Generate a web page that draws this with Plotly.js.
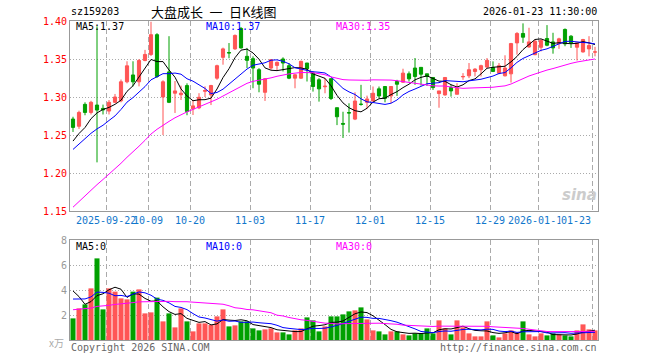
<!DOCTYPE html>
<html><head><meta charset="utf-8">
<script src="https://cdn.plot.ly/plotly-3.0.1.min.js"></script>
<style>html,body{margin:0;padding:0;background:#fff;}#chart{width:660px;height:360px;}</style>
</head><body><div id="chart"></div>
<script>
// Daily OHLC, 2025-09-12 .. 2026-01-23 (88 trading days)
const openP = [1.271,1.2615,1.2903,1.2797,1.2894,1.285,1.2815,1.293,1.295,1.320,
1.329,1.320,1.348,1.356,1.382,1.300,1.333,1.305,1.303,1.315,
1.2845,1.2857,1.3075,1.3027,1.3248,1.3522,1.3585,1.3633,1.3902,1.3535,
1.3504,1.3359,1.3062,1.3381,1.3416,1.35,1.3412,1.3248,1.3248,1.3447,
1.3314,1.3226,1.3135,1.324,1.2859,1.2652,1.2795,1.2709,1.2905,1.293,
1.2948,1.3107,1.3138,1.3014,1.3204,1.3195,1.3305,1.3381,1.339,1.3305,
1.3257,1.3045,1.3027,1.3124,1.3036,1.3265,1.3279,1.3336,1.3359,1.3394,
1.3389,1.3314,1.3279,1.3305,1.3712,1.3836,1.3659,1.3557,1.3654,1.377,
1.3725,1.3703,1.3889,1.38,1.3655,1.3593,1.3633,1.3591];
const highP = [1.274,1.282,1.293,1.295,1.393,1.290,1.296,1.304,1.323,1.347,
1.347,1.350,1.362,1.399,1.384,1.322,1.380,1.321,1.315,1.318,
1.296,1.305,1.314,1.316,1.3425,1.365,1.371,1.3823,1.392,1.3646,
1.3535,1.338,1.3248,1.35,1.3469,1.3522,1.3447,1.33,1.3478,1.3447,
1.3336,1.3248,1.3248,1.325,1.286,1.2806,1.2917,1.3062,1.316,1.3018,
1.3138,1.3138,1.3138,1.3138,1.3226,1.3372,1.3336,1.3513,1.339,1.3305,
1.3257,1.308,1.3257,1.316,1.3182,1.3314,1.3447,1.338,1.3425,1.3513,
1.3469,1.3447,1.3549,1.3712,1.3854,1.3969,1.3911,1.3756,1.376,1.3946,
1.3845,1.378,1.3902,1.3814,1.3712,1.3765,1.38,1.366];
const lowP = [1.254,1.258,1.276,1.277,1.214,1.277,1.277,1.292,1.293,1.318,
1.314,1.314,1.347,1.354,1.325,1.250,1.292,1.279,1.296,1.276,
1.2763,1.284,1.300,1.2894,1.3226,1.3425,1.351,1.362,1.3637,1.338,
1.3115,1.3062,1.2948,1.3359,1.3345,1.3336,1.3235,1.3115,1.3239,1.3204,
1.3071,1.2939,1.3049,1.296,1.263,1.2461,1.2532,1.2696,1.2886,1.2841,
1.2939,1.2983,1.293,1.2917,1.3014,1.3186,1.3204,1.316,1.315,1.3146,
1.3093,1.2859,1.3018,1.3005,1.3036,1.3226,1.3248,1.327,1.327,1.338,
1.3328,1.33,1.327,1.319,1.3557,1.3712,1.3646,1.355,1.36,1.3668,
1.357,1.3633,1.3668,1.3646,1.348,1.3584,1.3535,1.3535];
const closeP = [1.260,1.2797,1.2797,1.293,1.2828,1.283,1.293,1.300,1.320,1.341,
1.320,1.348,1.356,1.382,1.327,1.320,1.293,1.308,1.305,1.281,
1.2883,1.2996,1.3085,1.3151,1.3412,1.3633,1.358,1.381,1.3646,1.3482,
1.3381,1.3168,1.3239,1.3491,1.3456,1.3447,1.3248,1.3292,1.3469,1.3372,
1.3138,1.3107,1.3142,1.298,1.274,1.2643,1.279,1.2947,1.2903,1.2974,
1.3049,1.3014,1.2983,1.3138,1.3168,1.3314,1.3239,1.327,1.330,1.327,
1.3124,1.308,1.3257,1.308,1.3115,1.327,1.3359,1.3367,1.3412,1.3482,
1.3336,1.3412,1.3381,1.3703,1.3836,1.3787,1.3725,1.3734,1.3743,1.3681,
1.3646,1.3765,1.3699,1.3712,1.3712,1.3756,1.3677,1.3593];
// volume (万手)
const volume = [1.73,2.53,2.85,4.13,6.53,2.45,4.13,3.87,3.33,3.25,
3.87,4.05,2.13,2.21,3.39,1.49,2.13,1.01,2.53,1.49,
0.69,1.33,1.33,1.20,1.89,2.45,1.09,1.17,1.49,1.49,
0.93,0.77,0.85,0.93,0.61,0.61,0.45,0.77,0.93,1.81,
1.57,0.69,1.09,1.89,1.89,2.05,2.29,2.37,2.61,1.65,
0.77,0.69,0.45,0.69,0.69,0.45,0.37,0.53,0.53,0.93,
0.53,1.57,0.93,0.45,1.57,1.01,0.53,0.29,0.29,1.49,
0.37,0.21,0.53,0.77,0.61,1.49,0.45,0.29,0.53,0.37,
0.53,0.45,0.37,0.29,0.77,1.25,0.85,0.77];
// earlier (off-screen) closes and volumes, only used to warm up the moving averages
const histClose = [1.052,1.058,1.064,1.072,1.078,1.084,1.091,1.098,1.105,1.112,
1.118,1.125,1.133,1.140,1.147,1.155,1.164,1.172,1.181,1.191,
1.205,1.215,1.220,1.225,1.235,1.230,1.240,1.235,1.245];
const histVolume = [1.6,2.2,1.8,2.5,1.9,2.1,1.7,2.3,2.0,1.8,
2.2,1.9,2.4,1.7,2.1,2.0,1.8,2.3,1.9,1.7,
2.4,2.9,2.5,2.7,2.65,4.78,5.95,3.03,4.13];
const tickIdx = [6,13,20,30,40,50,60,70,78,87];
const tickLabels = ['2025-09-22','10-09','10-20','11-03','11-17','12-01','12-15','12-29','2026-01-12','01-23'];
const priceTicks = [1.15,1.20,1.25,1.30,1.35,1.40];
const volTicks = [2,4,6,8];
const maPeriods = [5,10,30];
const maColors = ['#000000','#0000ff','#ff00ff'];

const UP = '#ff5555', DOWN = '#00a000';
const xs = closeP.map((_, i) => i);

function movingAvg(hist, vals, n) {
  const all = hist.concat(vals), out = [];
  for (let i = 0; i < vals.length; i++) {
    const end = hist.length + i; let s = 0;
    for (let k = end - n + 1; k <= end; k++) s += all[k];
    out.push(s / n);
  }
  return out;
}

const traces = [];
traces.push({
  type: 'candlestick', x: xs, open: openP, high: highP, low: lowP, close: closeP,
  xaxis: 'x', yaxis: 'y', whiskerwidth: 0, hoverinfo: 'skip',
  increasing: {line: {color: UP, width: 1}, fillcolor: UP},
  decreasing: {line: {color: DOWN, width: 1}, fillcolor: DOWN}
});
const priceMA = maPeriods.map(n => movingAvg(histClose, closeP, n));
priceMA.forEach((m, j) => traces.push({type: 'scatter', mode: 'lines', x: xs, y: m, xaxis: 'x', yaxis: 'y',
  line: {color: maColors[j], width: 1}, hoverinfo: 'skip'}));
traces.push({
  type: 'bar', x: xs, y: volume, xaxis: 'x2', yaxis: 'y2', width: 0.84, hoverinfo: 'skip',
  marker: {color: closeP.map((c, i) => c >= openP[i] ? UP : DOWN), line: {width: 0}}
});
const volMA = maPeriods.map(n => movingAvg(histVolume, volume, n));
volMA.forEach((m, j) => traces.push({type: 'scatter', mode: 'lines', x: xs, y: m, xaxis: 'x2', yaxis: 'y2',
  line: {color: maColors[j], width: 1}, hoverinfo: 'skip'}));

const L = 70, T = 21, W = 528, H = 319, B = 340;
const xp = px => (px - L) / W, yp = py => (B - py) / H;
const mono = 'DejaVu Sans Mono';
const ann = [];
function txt(text, x, y, xanchor, color, size, family, extra) {
  ann.push(Object.assign({text, x, y, xref: 'paper', yref: 'paper', xanchor, yanchor: 'middle', showarrow: false,
    borderpad: 0, font: {family: family || mono, size: size || 10, color: color || '#000'}}, extra || {}));
}
txt('sz159203', xp(70), yp(12), 'left', '#000', 10);
txt('大盘成长\u2002一\u2002日K线图', xp(150), yp(12), 'left', '#000', 13, 'Noto Sans CJK SC');
txt('2026-01-23 11:30:00', xp(598), yp(12), 'right', '#000', 10);
const legX = [75, 205, 335];
maPeriods.forEach((n, j) => {
  txt('MA' + n + ':' + priceMA[j][priceMA[j].length - 1].toFixed(2), xp(legX[j]), yp(27), 'left', maColors[j], 10);
  txt('MA' + n + ':' + Math.floor(volMA[j][volMA[j].length - 1]), xp(legX[j]), yp(247), 'left', maColors[j], 10);
});
tickIdx.forEach((idx, k) => {
  const last = k === tickIdx.length - 1;
  ann.push({text: tickLabels[k], x: idx - 0.5, xref: 'x', y: yp(220), yref: 'paper',
    xanchor: last ? 'right' : 'center', yanchor: 'middle', showarrow: false,
    bgcolor: last ? '#ffffff' : 'rgba(0,0,0,0)', borderpad: 0,
    font: {family: mono, size: 10, color: '#1177cc'}});
});
txt('x万', xp(65), yp(342), 'right', '#aaaaaa', 10, 'Noto Sans CJK SC');
txt('Copyright 2026 SINA.COM', xp(70), yp(347), 'left', '#666666', 10);
txt('http://finance.sina.com.cn', xp(598), yp(347), 'right', '#666666', 10);
txt('<b><i>sina</i></b>', xp(598), yp(195), 'right', '#cccccc', 15, 'DejaVu Sans');

const gridX = tickIdx.map(i => i - 0.5);
const xbase = {range: [-0.5, 87.5], tickvals: gridX, showticklabels: false, ticks: '', showgrid: true,
  gridcolor: '#aaaaaa', griddash: '5px,3px', showline: true, mirror: true, linecolor: '#999999', linewidth: 1,
  zeroline: false, fixedrange: true};
const layout = {
  width: 660, height: 360, margin: {l: L, r: 660 - L - W, t: T, b: 360 - B},
  paper_bgcolor: '#ffffff', plot_bgcolor: '#ffffff', showlegend: false, boxgap: 0.25,
  font: {family: mono, size: 10},
  xaxis: Object.assign({}, xbase, {anchor: 'y', domain: [0, 1], rangeslider: {visible: false}}),
  xaxis2: Object.assign({}, xbase, {anchor: 'y2', domain: [0, 1]}),
  yaxis: {domain: [yp(211), 1], range: [1.15, 1.40], tickvals: priceTicks, tickformat: '.2f', ticks: '',
    tickfont: {family: mono, size: 10, color: '#ff0000'}, showgrid: true, gridcolor: '#aaaaaa', griddash: '1px,2px',
    showline: true, mirror: true, linecolor: '#999999', linewidth: 1, zeroline: false, fixedrange: true},
  yaxis2: {domain: [0, yp(240)], range: [0, 8], tickvals: volTicks, ticks: '',
    tickfont: {family: mono, size: 10, color: '#999999'}, showgrid: true, gridcolor: '#aaaaaa', griddash: '1px,2px',
    showline: true, mirror: true, linecolor: '#999999', linewidth: 1, zeroline: false, fixedrange: true},
  annotations: ann
};
Plotly.newPlot('chart', traces, layout, {staticPlot: true, displayModeBar: false});
</script></body></html>
